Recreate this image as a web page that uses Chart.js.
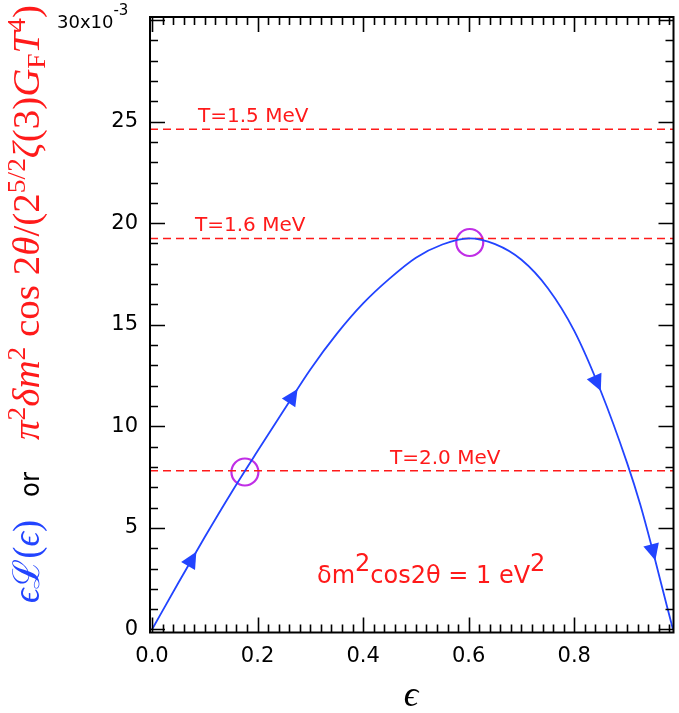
<!DOCTYPE html>
<html>
<head>
<meta charset="utf-8">
<script src="https://cdn.jsdelivr.net/npm/chart.js@4/dist/chart.umd.min.js"></script>
<style>
  html, body { margin: 0; padding: 0; background: #fff; overflow: hidden; }
  #wrap { width: 679px; height: 713px; }
  canvas { display: block; }
</style>
</head>
<body>
<div id="wrap"><canvas id="c" width="679" height="713"></canvas></div>
<script>
// epsilon * L(epsilon), values in units of 10^-3
const eps  = [0, 0.05, 0.10, 0.15, 0.20, 0.25, 0.30, 0.35, 0.40, 0.45, 0.50, 0.55, 0.60,
              0.65, 0.70, 0.75, 0.80, 0.85, 0.90, 0.925, 0.95, 0.975, 0.987];
const epsL = [0, 2.30, 4.55, 6.72, 8.78, 10.80, 12.80, 14.55, 16.05, 17.27, 18.30, 18.95, 19.25,
              18.97, 18.20, 16.80, 14.70, 11.75, 8.20, 6.15, 3.75, 1.20, 0];

// resonance levels for three temperatures (units of 10^-3)
const tempLabels = ['T=1.5 MeV', 'T=1.6 MeV', 'T=2.0 MeV'];
const tempLevels = [24.62, 19.25, 7.81];

// marked crossing points
const markEps  = [0.176, 0.602];
const markVals = [7.75, 19.05];

// direction arrows along the curve (at these epsilon values)
const arrowEps = [0.075, 0.266, 0.843, 0.949];

// axes
const xMin = -0.0038, xMax = 0.988;
const yMin = -0.15,   yMax = 30.15;
const xTickVals   = [0, 0.2, 0.4, 0.6, 0.8];
const xTickLabels = ['0.0', '0.2', '0.4', '0.6', '0.8'];
const yTickVals   = [0, 5, 10, 15, 20, 25, 30];
const yTickLabels = ['0', '5', '10', '15', '20', '25', ''];

const RED = '#ff1a1a', BLUE = '#2244ff', MAGENTA = '#c02ee6';
const SANS = '"DejaVu Sans", Verdana, sans-serif';
const SERIF = '"Liberation Serif", "DejaVu Serif", serif';

function curveValue(e) {
  for (let i = 0; i < eps.length - 1; i++) {
    if (e >= eps[i] && e <= eps[i + 1]) {
      const t = (e - eps[i]) / (eps[i + 1] - eps[i]);
      return epsL[i] + t * (epsL[i + 1] - epsL[i]);
    }
  }
  return 0;
}

// inward ticks on all four sides plus the frame
const framePlugin = {
  id: 'frame',
  afterDraw(chart) {
    const {ctx, chartArea: a, scales: {x, y}} = chart;
    ctx.save();
    ctx.strokeStyle = '#000';
    ctx.lineWidth = 1.6;
    ctx.beginPath();
    for (let k = 0; k <= 49; k++) {
      const v = k * 0.02;
      const px = Math.round(x.getPixelForValue(v)) + 0.5;
      const len = (k % 10 === 0) ? 15 : 8;
      ctx.moveTo(px, a.bottom); ctx.lineTo(px, a.bottom - len);
      ctx.moveTo(px, a.top);    ctx.lineTo(px, a.top + len);
    }
    for (let k = 0; k <= 30; k++) {
      const py = Math.round(y.getPixelForValue(k)) + 0.5;
      const len = (k % 5 === 0) ? 15 : 8;
      ctx.moveTo(a.left, py);  ctx.lineTo(a.left + len, py);
      ctx.moveTo(a.right, py); ctx.lineTo(a.right - len, py);
    }
    ctx.stroke();
    ctx.lineWidth = 2;
    ctx.strokeRect(a.left, a.top, a.right - a.left, a.bottom - a.top);
    ctx.restore();
  }
};

// arrowheads pointing toward increasing epsilon
const arrowPlugin = {
  id: 'arrows',
  afterDatasetsDraw(chart) {
    const {ctx, scales: {x, y}} = chart;
    ctx.save();
    ctx.fillStyle = BLUE;
    arrowEps.forEach(e => {
      const cx = x.getPixelForValue(e), cy = y.getPixelForValue(curveValue(e));
      const x0 = x.getPixelForValue(e - 0.006), y0 = y.getPixelForValue(curveValue(e - 0.006));
      const x1 = x.getPixelForValue(e + 0.006), y1 = y.getPixelForValue(curveValue(e + 0.006));
      const ang = Math.atan2(y1 - y0, x1 - x0);
      const ux = Math.cos(ang), uy = Math.sin(ang), nx = -uy, ny = ux;
      ctx.beginPath();
      ctx.moveTo(cx + 9.5 * ux, cy + 9.5 * uy);
      ctx.lineTo(cx - 7 * ux + 8 * nx, cy - 7 * uy + 8 * ny);
      ctx.lineTo(cx - 7 * ux - 8 * nx, cy - 7 * uy - 8 * ny);
      ctx.closePath();
      ctx.fill();
    });
    ctx.restore();
  }
};

function drawRun(ctx, parts, start, len) {
  let total = 0;
  parts.forEach(p => { ctx.font = p.font; p.w = ctx.measureText(p.t).width; total += p.w; });
  const s = len / total;
  ctx.save();
  ctx.translate(start, 0);
  ctx.scale(s, 1);
  let xx = 0;
  parts.forEach(p => {
    ctx.font = p.font; ctx.fillStyle = p.color;
    ctx.fillText(p.t, xx, p.dy || 0);
    xx += p.w;
  });
  ctx.restore();
}

// text: level labels, annotation, axis titles, exponent
const textPlugin = {
  id: 'texts',
  afterDraw(chart) {
    const {ctx, chartArea: a, scales: {x, y}} = chart;
    ctx.save();
    ctx.textBaseline = 'alphabetic';
    ctx.textAlign = 'left';

    // temperature labels
    ctx.font = '20px ' + SANS;
    ctx.fillStyle = RED;
    const labelLeft = [48, 45, 240];
    tempLevels.forEach((v, i) => {
      ctx.fillText(tempLabels[i], a.left + labelLeft[i], y.getPixelForValue(v) - 7);
    });

    // delta m^2 cos 2theta annotation
    ctx.font = '24px ' + SANS;
    let tx = 317;
    const base = 583;
    [['δm', 0], ['2', -12], ['cos2θ = 1 eV', 0], ['2', -12]].forEach(([t, dy]) => {
      ctx.fillText(t, tx, base + dy);
      tx += ctx.measureText(t).width;
    });

    // exponent at top of y axis
    ctx.fillStyle = '#000';
    ctx.font = '18px ' + SANS;
    ctx.fillText('30x10', 57, 28);
    const w = ctx.measureText('30x10').width;
    ctx.font = '15px ' + SANS;
    ctx.fillText('-3', 57 + w, 15);

    // x-axis title
    ctx.font = 'italic 36px ' + SERIF;
    ctx.textAlign = 'center';
    ctx.fillText('ϵ', 411, 706);

    // y-axis title, rotated
    ctx.textAlign = 'left';
    ctx.translate(39, 603);
    ctx.rotate(-Math.PI / 2);
    const I = 'italic 37px ' + SERIF, R = '37px ' + SERIF;
    const Rs = '26px ' + SERIF;
    drawRun(ctx, [
      {t: 'ϵ', font: I, color: BLUE},
      {t: 'ℒ', font: R, color: BLUE},
      {t: '(', font: R, color: BLUE},
      {t: 'ϵ', font: I, color: BLUE},
      {t: ')', font: R, color: BLUE}
    ], 0, 83);
    drawRun(ctx, [{t: 'or', font: '26px ' + SANS, color: '#000'}], 106, 25);
    drawRun(ctx, [
      {t: 'π', font: I, color: RED},
      {t: '2', font: Rs, color: RED, dy: -14},
      {t: 'δm', font: I, color: RED},
      {t: '2', font: Rs, color: RED, dy: -14},
      {t: ' cos 2', font: R, color: RED},
      {t: 'θ', font: I, color: RED},
      {t: '/(2', font: R, color: RED},
      {t: '5/2', font: Rs, color: RED, dy: -14},
      {t: 'ζ', font: I, color: RED},
      {t: '(3)', font: R, color: RED},
      {t: 'G', font: I, color: RED},
      {t: 'F', font: Rs, color: RED, dy: 6},
      {t: 'T', font: I, color: RED},
      {t: '4', font: Rs, color: RED, dy: -14},
      {t: ')', font: R, color: RED}
    ], 163, 435);
    ctx.restore();
  }
};

const levelSets = tempLevels.map(v => ({
  data: [{x: xMin, y: v}, {x: xMax, y: v}],
  borderColor: RED,
  borderWidth: 1.5,
  borderDash: [8, 5],
  pointRadius: 0,
  fill: false
}));

function noPad(s) {
  s.paddingLeft = 0; s.paddingRight = 0; s.paddingTop = 0; s.paddingBottom = 0;
}

new Chart(document.getElementById('c'), {
  type: 'line',
  data: {
    datasets: [
      {
        data: eps.map((e, i) => ({x: e, y: epsL[i]})),
        borderColor: BLUE,
        borderWidth: 1.8,
        pointRadius: 0,
        cubicInterpolationMode: 'monotone',
        fill: false
      },
      ...levelSets,
      {
        data: markEps.map((e, i) => ({x: e, y: markVals[i]})),
        showLine: false,
        pointRadius: 13.5,
        pointBorderWidth: 2.2,
        pointBorderColor: MAGENTA,
        pointBackgroundColor: 'rgba(0,0,0,0)'
      }
    ]
  },
  options: {
    responsive: false,
    animation: false,
    devicePixelRatio: 1,
    events: [],
    layout: {autoPadding: false, padding: {top: 17, right: 5.5, left: 0, bottom: 0}},
    plugins: {legend: {display: false}, tooltip: {enabled: false}},
    scales: {
      x: {
        type: 'linear',
        min: xMin, max: xMax,
        afterBuildTicks: s => { s.ticks = xTickVals.map(v => ({value: v})); },
        afterFit: s => { s.height = 80.5; noPad(s); },
        grid: {display: false, drawTicks: false},
        border: {display: false},
        ticks: {
          padding: 11,
          color: '#000',
          font: {family: SANS, size: 21},
          maxRotation: 0,
          autoSkip: false,
          callback: (v, i) => xTickLabels[i]
        }
      },
      y: {
        type: 'linear',
        min: yMin, max: yMax,
        afterBuildTicks: s => { s.ticks = yTickVals.map(v => ({value: v})); },
        afterFit: s => { s.width = 150; noPad(s); },
        grid: {display: false, drawTicks: false},
        border: {display: false},
        ticks: {
          padding: 12,
          color: '#000',
          font: {family: SANS, size: 21},
          autoSkip: false,
          callback: (v, i) => yTickLabels[i]
        }
      }
    }
  },
  plugins: [framePlugin, arrowPlugin, textPlugin]
});
</script>
</body>
</html>
